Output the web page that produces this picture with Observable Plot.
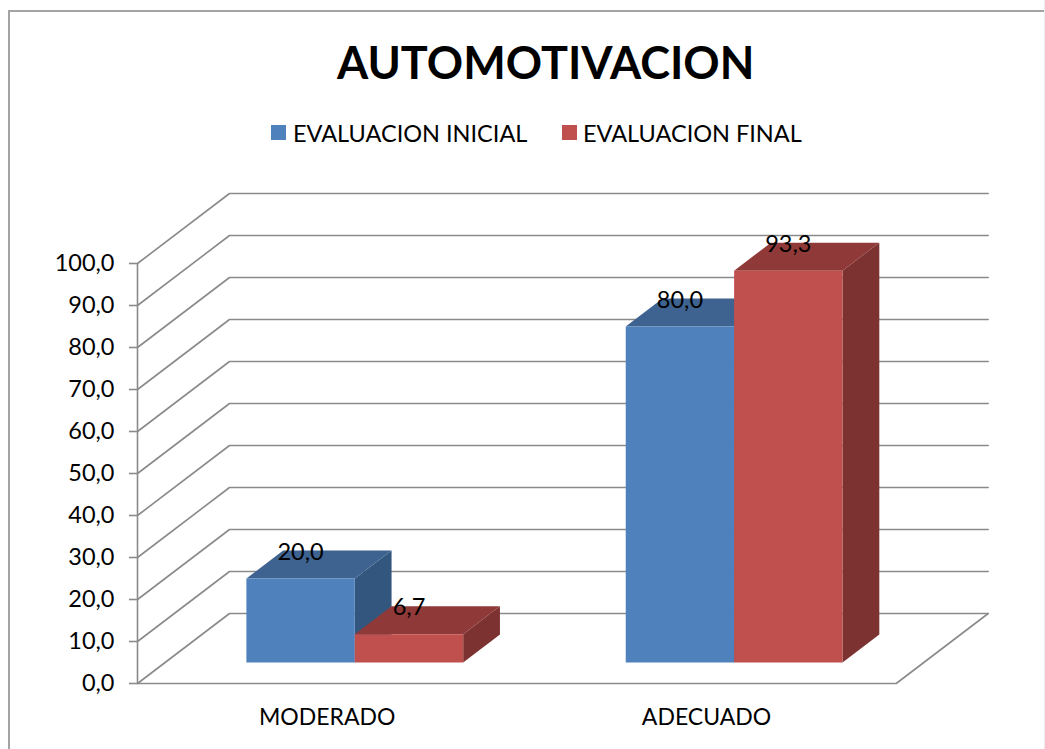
<!DOCTYPE html>
<html>
<head>
<meta charset="utf-8">
<script src="https://cdn.jsdelivr.net/npm/d3@7"></script>
<script src="https://cdn.jsdelivr.net/npm/@observablehq/plot@0.6"></script>
<style>
  html, body { margin: 0; padding: 0; background: #fff; width: 1045px; height: 749px; overflow: hidden; }
  body { position: relative; font-family: Lato, "Open Sans", sans-serif; color: #000; }
  #frame { position: absolute; left: 8px; top: 10px; width: 1040px; height: 800px; box-sizing: border-box; border: 2px solid #a3a3a3; }
  #edge { position: absolute; left: 1044px; top: 0; width: 1px; height: 749px; background: #ececec; }
  #title { position: absolute; left: 337px; top: 33px; font-size: 45px; font-weight: 700; line-height: 58px; white-space: nowrap; letter-spacing: 0; }
  .sw { position: absolute; top: 125px; width: 15px; height: 15px; }
  .lg { position: absolute; top: 118px; font-size: 23.5px; line-height: 30px; white-space: nowrap; }
  #chart { position: absolute; left: 0; top: 180px; }
</style>
</head>
<body>
<div id="frame"></div>
<div id="edge"></div>
<div id="title"></div>
<div id="legend"></div>
<div id="chart"></div>
<script>
const titleText = "AUTOMOTIVACION";
const categories = ["MODERADO", "ADECUADO"];
const seriesNames = ["EVALUACION INICIAL", "EVALUACION FINAL"];
const inicial = [20.0, 80.0];
const final = [6.7, 93.3];
const yTicks = [0, 10, 20, 30, 40, 50, 60, 70, 80, 90, 100];

const frontColors = ["#4f81bd", "#c0504d"];
const topColors = ["#3e6390", "#8f3a38"];
const sideColors = ["#33567f", "#7c3230"];
const gridColor = "#8a8a8a";
const fontFamily = "Lato, 'Open Sans', sans-serif";

// Oblique projection: depth z (0 = front of floor, 1 = back wall) shifts a point in data units.
const depthX = 92 / 379.35;
const depthY = 70 / 4.2;
const project = (x, v, z) => ({x: x + z * depthX, y: v + z * depthY});
const comma = (v) => v.toFixed(1).replace(".", ",");

const barWidth = 1 / 3.5;
const zNear = 0.3, zFar = 0.7;

const faces = [];
[inicial, final].forEach((values, s) => {
  values.forEach((v, c) => {
    const x0 = c + 0.5 - barWidth + s * barWidth, x1 = x0 + barWidth;
    const poly = (name, fill, pts) => pts.forEach(([x, val, z]) =>
      faces.push({face: `${s}-${c}-${name}`, fill, ...project(x, val, z)}));
    poly("side", sideColors[s], [[x1, 0, zNear], [x1, 0, zFar], [x1, v, zFar], [x1, v, zNear]]);
    poly("top", topColors[s], [[x0, v, zNear], [x0, v, zFar], [x1, v, zFar], [x1, v, zNear]]);
    poly("front", frontColors[s], [[x0, 0, zNear], [x1, 0, zNear], [x1, v, zNear], [x0, v, zNear]]);
  });
});

const walls = [];
yTicks.forEach((t) => {
  [[0, 0], [0, 1], [2, 1]].forEach(([x, z]) => walls.push({line: `g${t}`, ...project(x, t, z)}));
});
[[0, 0], [2, 0], [2, 1]].forEach(([x, z]) => walls.push({line: "floor", ...project(x, 0, z)}));
[[0, 0], [0, 100]].forEach(([x, v]) => walls.push({line: "axis", x, y: v}));

const labels = [];
[inicial, final].forEach((values, s) => values.forEach((v, c) => {
  labels.push({text: comma(v), ...project(c + 0.5 - barWidth / 2 - barWidth / 2 + s * barWidth + barWidth / 2, v, zNear)});
}));

document.getElementById("title").textContent = titleText;
const legend = document.getElementById("legend");
[[271, 293], [562, 583]].forEach(([sx, tx], i) => {
  const sw = document.createElement("div");
  sw.className = "sw"; sw.style.left = sx + "px"; sw.style.background = frontColors[i];
  const lg = document.createElement("div");
  lg.className = "lg"; lg.style.left = tx + "px"; lg.textContent = seriesNames[i];
  legend.append(sw, lg);
});

const chart = Plot.plot({
  width: 1045,
  height: 569,
  marginLeft: 137,
  marginRight: 149.3,
  marginTop: 83,
  marginBottom: 66,
  style: {background: "transparent", fontFamily, color: "#000", overflow: "visible"},
  x: {domain: [0, 2], axis: null},
  y: {domain: [0, 100], axis: null},
  color: {type: "identity"},
  marks: [
    Plot.line(walls, {x: "x", y: "y", z: "line", stroke: gridColor, strokeWidth: 1.6, strokeLinejoin: "miter"}),
    Plot.axisY({ticks: yTicks, tickFormat: comma, tickSize: 8, tickPadding: 15, stroke: gridColor, strokeWidth: 1.6, fontSize: 23.5, color: "#000", label: null, anchor: "left"}),
    Plot.line(faces, {x: "x", y: "y", z: "face", fill: "fill", stroke: "none"}),
    Plot.text(labels, {x: "x", y: "y", text: "text", dy: -26.5, fontSize: 23.5, fill: "#000", lineAnchor: "middle"}),
    Plot.text(categories, {x: (d, i) => i + 0.5, y: () => 0, text: (d) => d, dy: 34, fontSize: 23, fill: "#000", lineAnchor: "middle"})
  ]
});
document.getElementById("chart").append(chart);
</script>
</body>
</html>
